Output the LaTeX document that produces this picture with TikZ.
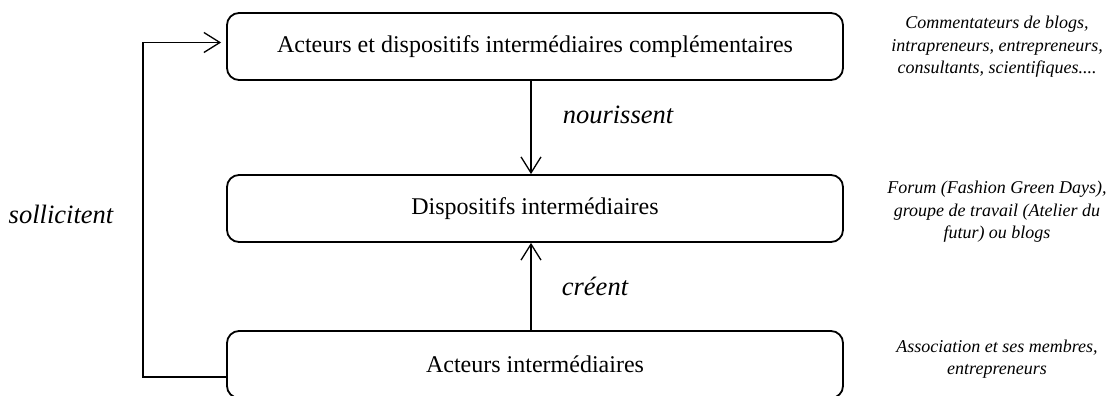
\documentclass[tikz,border=0pt]{standalone}
\usepackage{fontspec}
\setmainfont{Liberation Serif}
\usetikzlibrary{arrows.meta}
\begin{document}
\begin{tikzpicture}[x=1pt,y=-1pt,
  box/.style={draw,line width=1.8pt,rounded corners=12pt,minimum width=616pt,minimum height=67pt,inner sep=0pt,font=\fontsize{24}{28}\selectfont},
  conn/.style={line width=1.3pt,-{Straight Barb[length=16pt,width=20pt,line width=1.3pt]}},
  verb/.style={anchor=base,font=\fontsize{26.5}{30}\selectfont\itshape},
  note/.style={font=\fontsize{18}{22.5}\selectfont\itshape,align=center}]
\useasboundingbox (0,0) rectangle (1116,396);
\clip (0,0) rectangle (1116,396);
\node[box] (top) at (535,46.5) {Acteurs et dispositifs intermédiaires complémentaires};
\node[box] (mid) at (535,208.5) {Dispositifs intermédiaires};
\node[box] (bot) at (535,364.5) {Acteurs intermédiaires};
\draw[conn] (top.south -| 531,0) -- (mid.north -| 531,0);
\draw[conn] (bot.north -| 531,0) -- (mid.south -| 531,0);
\coordinate (c1) at (143,377);
\coordinate (c2) at (143,42.5);
\draw[conn] (bot.west |- c1) -- (c1) -- (c2) -- ([xshift=-5pt]top.west |- c2);
\node[verb] (v1) at (618,123) {nourissent};
\node[verb] (v2) at (595,295) {créent};
\node[verb] (v3) at (61,223) {sollicitent};
\node[note] (n1) at (997,47) {Commentateurs de blogs,\\intrapreneurs, entrepreneurs,\\consultants, scientifiques....};
\node[note] (n2) at (997,212) {Forum (Fashion Green Days),\\groupe de travail (Atelier du\\futur) ou blogs};
\node[note] (n3) at (997,359) {Association et ses membres,\\entrepreneurs};
\end{tikzpicture}
\end{document}
